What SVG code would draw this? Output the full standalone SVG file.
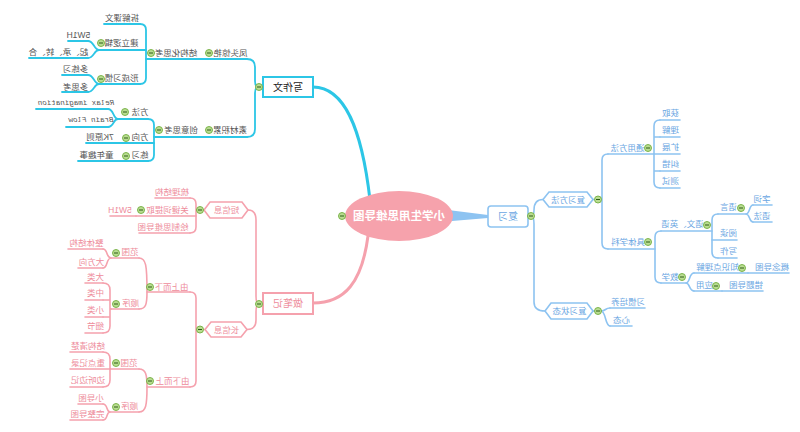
<svg xmlns="http://www.w3.org/2000/svg" xmlns:xlink="http://www.w3.org/1999/xlink" width="800" height="432" viewBox="0 0 800 432">
<style>
.t{font-family:"Liberation Sans","Noto Sans CJK SC",sans-serif;font-size:8.5px;text-anchor:middle;dominant-baseline:central;transform:scaleX(-1);transform-box:fill-box;transform-origin:center}
.mono{font-family:"Liberation Mono",monospace;font-style:italic;font-size:7.5px}
.big{font-size:10px}
.c{fill:#555}.p{fill:#EE8C9B}.b{fill:#6AA6E2}
.lc{fill:none;stroke:#2CC6E6;stroke-width:1.8;stroke-linecap:round}
.lp{fill:none;stroke:#F5A1AD;stroke-width:1.6;stroke-linecap:round}
.lb{fill:none;stroke:#8DC3F1;stroke-width:1.6;stroke-linecap:round}
.hp{fill:#fff;stroke:#F5A1AD;stroke-width:1.6}
.hb{fill:#fff;stroke:#8DC3F1;stroke-width:1.6}
</style>
<defs>
<g id="cb"><circle r="3.5" fill="#b9dc91" stroke="#72ae3e" stroke-width="0.9"/><line x1="-2" y1="0" x2="2" y2="0" stroke="#2f5d17" stroke-width="1"/></g>
</defs>
<rect width="800" height="432" fill="#fff"/>

<g id="connectors">
<!-- main -->
<path class="lc" style="stroke-width:3" d="M313,87 C345,87 362,130 370,200"/>
<path class="lp" style="stroke-width:3" d="M368,236 C362,282 345,303 313,303"/>
<path d="M440,209 L488,215 L488,218 L440,222 Z" fill="#8DC3F1"/>
<!-- cyan -->
<path class="lc" d="M263,87 L259,87 Q255,87 255,81 L255,67 Q255,59 247,59"/>
<path class="lc" d="M259,87 Q255,87 255,93 L255,129 Q255,137 247,137"/>
<path class="lc" d="M140,24 Q146,24 146,30 L146,78 Q146,84 140,84"/>
<path class="lc" d="M99,50 C94,50 94,41 88,41 M99,50 C94,50 94,58 88,58"/>
<path class="lc" d="M99,84 C94,84 94,75 88,75 M99,84 C94,84 94,92 88,92"/>
<path class="lc" d="M148,119 Q154,119 154,125 L154,155 Q154,161 148,161"/>
<path class="lc" d="M118,119 C113,119 114,109 108,109 M118,119 C113,119 114,127 108,127"/>
<!-- pink -->
<path class="lp" d="M263,304 L259,304 Q256,304 256,296 L256,220 Q256,210 248,210"/>
<path class="lp" d="M259,304 Q256,304 256,312 L256,320 Q256,329.5 247,329.5"/>
<path class="lp" d="M190,198 Q196,198 196,204 L196,227 Q196,233 190,233 M204,210 L196,210"/>
<path class="lp" d="M190,292 Q196,292 196,298 L196,381 Q196,387 190,387 M205,329.5 L196,329.5"/>
<path class="lp" d="M147,292 C147,265 146,258 139,258 M147,292 C147,304 146,309 139,309"/>
<path class="lp" d="M111,258 C106,258 108,249 103,249 M111,258 C106,258 108,268 103,268"/>
<path class="lp" d="M103,283 Q110,283 110,290 L110,326 Q110,333 103,333 M111,309 L110,309 M110,300 L103,300 M110,317 L103,317"/>
<path class="lp" d="M147,387 C147,375 146,369 139,369 M147,387 C147,405 146,412 139,412"/>
<path class="lp" d="M103,352 Q110,352 110,359 L110,380 Q110,387 103,387"/>
<path class="lp" d="M110,412 C106,412 108,404 103,404 M110,412 C106,412 108,420 103,420"/>
<!-- blue -->
<path class="lb" d="M528,216 L531,216 Q534,216 534,210 Q534,199.5 543,199.5"/>
<path class="lb" d="M531,216 Q534,216 534,224 L534,302 Q534,311 545,311"/>
<path class="lb" d="M593,199.5 L602,199.5 M608,154 Q602,154 602,160 L602,243 Q602,249 608,249"/>
<path class="lb" d="M660,120 Q654,120 654,126 L654,182 Q654,188 660,188 M654,137 L660,137 M654,171 L660,171"/>
<path class="lb" d="M661,231 Q655,231 655,237 L655,277 Q655,283 661,283"/>
<path class="lb" d="M718,214 Q712,214 712,220 L712,252 Q712,258 718,258"/>
<path class="lb" d="M746,214 C750,214 749,205 753,205 M746,214 C750,214 749,222 753,222"/>
<path class="lb" d="M686,283 C690,283 689,273 694,273 M686,283 C690,283 689,291 694,291"/>
<path class="lb" d="M593,311 L601,311 C606,311 605,308 610,308 M601,311 C606,311 605,326 610,326"/>
</g>

<!-- center -->
<g id="root">
<ellipse cx="399" cy="216" rx="54" ry="25" fill="#F6A2AC"/>
<text class="t" x="399" y="216" style="font-size:11.5px;font-weight:bold;fill:#fff">小学生用思维导图</text>
<use href="#cb" x="342" y="216"/>
</g>

<!-- cyan branch -->
<g id="n-xiezuowen"><rect x="263" y="77" width="50" height="20" fill="#fff" stroke="#2CC6E6" stroke-width="2"/><text class="t big" x="288" y="87" style="fill:#222">写作文</text><use href="#cb" x="259" y="87"/></g>
<g id="n-fengtou"><text class="t c" x="230" y="53">凤头惊艳</text><path class="lc" d="M199,59 H247"/><use href="#cb" x="209" y="53"/></g>
<g id="n-jiegouhua"><text class="t c" x="176" y="53">结构化思考</text><path class="lc" d="M146,59 H199"/><use href="#cb" x="151" y="53"/></g>
<g id="n-chaijie"><text class="t c" x="121.5" y="18">拆解课文</text><path class="lc" d="M104,24 H140"/></g>
<g id="n-jianli"><text class="t c" x="121" y="43">建立逻辑</text><path class="lc" d="M99,50 H146"/><use href="#cb" x="101" y="43"/></g>
<g id="n-5w1h-a"><text class="t c" x="78.5" y="35">5W1H</text><path class="lc" d="M68,41 H88"/></g>
<g id="n-qichengzhuanhe"><text class="t c" x="58" y="52">起、承、转、合</text><path class="lc" d="M29,58 H88"/></g>
<g id="n-xingcheng"><text class="t c" x="121" y="78">形成习惯</text><path class="lc" d="M99,84 H140"/><use href="#cb" x="101" y="79"/></g>
<g id="n-duolianxi"><text class="t c" x="75.5" y="69">多练习</text><path class="lc" d="M62,75 H88"/></g>
<g id="n-duosikao"><text class="t c" x="75.5" y="87">多思考</text><path class="lc" d="M62,92 H88"/></g>
<g id="n-sucai"><text class="t c" x="230" y="130">素材积累</text><path class="lc" d="M203,137 H247"/><use href="#cb" x="209" y="130"/></g>
<g id="n-chuangyi"><text class="t c" x="181" y="130">创意思考</text><path class="lc" d="M154,137 H203"/><use href="#cb" x="159" y="130"/></g>
<g id="n-fangfa"><text class="t c" x="140" y="112">方法</text><path class="lc" d="M118,119 H148"/><use href="#cb" x="125" y="112"/></g>
<g id="n-relax"><text class="t c mono" x="75.5" y="103">Relax imagination</text><path class="lc" d="M36,109 H108"/></g>
<g id="n-brain"><text class="t c mono" x="90.5" y="120">Brain Flow</text><path class="lc" d="M66,127 H108"/></g>
<g id="n-fangxiang"><text class="t c" x="140" y="137">方向</text><path class="lc" d="M122,143 H154"/><use href="#cb" x="126" y="138"/></g>
<g id="n-7k"><text class="t c" x="100" y="137">7K原则</text><path class="lc" d="M86,143 H122"/></g>
<g id="n-lianxi"><text class="t c" x="140" y="155">练习</text><path class="lc" d="M122,161 H148"/><use href="#cb" x="126" y="156"/></g>
<g id="n-tongnian"><text class="t c" x="96" y="155">童年趣事</text><path class="lc" d="M78,161 H122"/></g>

<!-- pink branch -->
<g id="n-zuobiji"><rect x="263" y="293" width="50" height="21" fill="#fff" stroke="#F5A1AD" stroke-width="2"/><text class="t big p" x="288" y="303.5">做笔记</text><use href="#cb" x="259" y="304"/></g>
<g id="n-duanxinxi"><polygon class="hp" points="210,202 242,202 248,210 242,218 210,218 204,210"/><text class="t p" x="226" y="210">短信息</text><use href="#cb" x="200" y="210"/></g>
<g id="n-shuli"><text class="t p" x="172" y="192">梳理结构</text><path class="lp" d="M155,198 H190"/></g>
<g id="n-guanjianci"><text class="t p" x="167" y="210">关键词提取</text><path class="lp" d="M136,216 H196"/><use href="#cb" x="141" y="210"/></g>
<g id="n-5w1h-b"><text class="t p" x="120" y="210">5W1H</text><path class="lp" d="M110,216 H136"/></g>
<g id="n-huizhi"><text class="t p" x="163" y="227">绘制思维导图</text><path class="lp" d="M139,233 H190"/></g>
<g id="n-changxinxi"><polygon class="hp" points="211,322 241,322 247,329.5 241,337 211,337 205,329.5"/><text class="t p" x="226" y="329.5">长信息</text><use href="#cb" x="200" y="329.5"/></g>
<g id="n-shangxia"><text class="t p" x="171" y="287">由上而下</text><path class="lp" d="M147,292 H190"/><use href="#cb" x="150" y="287"/></g>
<g id="n-fanwei1"><text class="t p" x="130" y="252">范围</text><path class="lp" d="M111,258 H139"/><use href="#cb" x="116" y="253"/></g>
<g id="n-zhengti"><text class="t p" x="86.5" y="243">整体结构</text><path class="lp" d="M68,249 H103"/></g>
<g id="n-dafangxiang"><text class="t p" x="91.5" y="262">大方向</text><path class="lp" d="M78,268 H103"/></g>
<g id="n-shunxu1"><text class="t p" x="130" y="303">顺序</text><path class="lp" d="M111,309 H139"/><use href="#cb" x="116" y="304"/></g>
<g id="n-dalei"><text class="t p" x="95" y="277">大类</text><path class="lp" d="M85,283 H103"/></g>
<g id="n-zhonglei"><text class="t p" x="95" y="293">中类</text><path class="lp" d="M85,300 H103"/></g>
<g id="n-xiaolei"><text class="t p" x="95" y="310">小类</text><path class="lp" d="M85,317 H103"/></g>
<g id="n-xijie"><text class="t p" x="95" y="326">细节</text><path class="lp" d="M85,333 H103"/></g>
<g id="n-xiashang"><text class="t p" x="172" y="381">由下而上</text><path class="lp" d="M147,387 H190"/><use href="#cb" x="150" y="381"/></g>
<g id="n-fanwei2"><text class="t p" x="129" y="363">范围</text><path class="lp" d="M110,369 H139"/><use href="#cb" x="116" y="363"/></g>
<g id="n-jiegouqingchu"><text class="t p" x="87.5" y="346">结构清楚</text><path class="lp" d="M70,352 H103"/></g>
<g id="n-zhongdian"><text class="t p" x="87.5" y="363">重点记录</text><path class="lp" d="M70,369 H110"/></g>
<g id="n-biantingbianji"><text class="t p" x="87.5" y="380">边听边记</text><path class="lp" d="M70,387 H103"/></g>
<g id="n-shunxu2"><text class="t p" x="129" y="406">顺序</text><path class="lp" d="M110,412 H139"/><use href="#cb" x="116" y="407"/></g>
<g id="n-xiaodaotu"><text class="t p" x="91" y="398">小导图</text><path class="lp" d="M78,404 H103"/></g>
<g id="n-wanzheng"><text class="t p" x="87.5" y="414">完整导图</text><path class="lp" d="M70,420 H103"/></g>

<!-- blue branch -->
<g id="n-fuxi"><rect x="488" y="206" width="40" height="21" rx="3" fill="#fff" stroke="#8DC3F1" stroke-width="1.6"/><text class="t big b" x="508" y="216.5">复习</text><use href="#cb" x="531" y="216"/></g>
<g id="n-fuxifangfa"><polygon class="hb" points="549,192 587,192 593,199.5 587,207 549,207 543,199.5"/><text class="t b" x="568" y="199.5">复习方法</text><use href="#cb" x="598" y="199.5"/></g>
<g id="n-tongyong"><text class="t b" x="627.5" y="148">通用方法</text><path class="lb" d="M608,154 H654"/><use href="#cb" x="648" y="148"/></g>
<g id="n-huoqu"><text class="t b" x="670" y="113">获取</text><path class="lb" d="M660,120 H680"/></g>
<g id="n-lijie"><text class="t b" x="670" y="130">理解</text><path class="lb" d="M660,137 H680"/></g>
<g id="n-kuozhan"><text class="t b" x="670" y="147">扩展</text><path class="lb" d="M654,154 H680"/></g>
<g id="n-jiucuo"><text class="t b" x="670" y="164">纠错</text><path class="lb" d="M660,171 H680"/></g>
<g id="n-ceshi"><text class="t b" x="670" y="181">测试</text><path class="lb" d="M660,188 H680"/></g>
<g id="n-juti"><text class="t b" x="627.5" y="242">具体学科</text><path class="lb" d="M608,249 H655"/><use href="#cb" x="648" y="242"/></g>
<g id="n-yuwen"><text class="t b" x="682" y="224">语文、英语</text><path class="lb" d="M661,231 H712"/><use href="#cb" x="707" y="225"/></g>
<g id="n-yuyan"><text class="t b" x="728" y="207">语言</text><path class="lb" d="M718,214 H746"/><use href="#cb" x="741" y="208"/></g>
<g id="n-zici"><text class="t b" x="762" y="198.5">字词</text><path class="lb" d="M753,205 H772"/></g>
<g id="n-yufa"><text class="t b" x="762" y="215.5">语法</text><path class="lb" d="M753,222 H772"/></g>
<g id="n-yuedu"><text class="t b" x="728" y="233">阅读</text><path class="lb" d="M712,240 H737"/></g>
<g id="n-xiezuo"><text class="t b" x="728" y="251">写作</text><path class="lb" d="M718,258 H737"/></g>
<g id="n-shuxue"><text class="t b" x="669.5" y="277">数学</text><path class="lb" d="M661,283 H686"/><use href="#cb" x="682" y="277"/></g>
<g id="n-zhishidian"><text class="t b" x="717" y="267">知识点理解</text><path class="lb" d="M694,273 H748"/><use href="#cb" x="742" y="268"/></g>
<g id="n-gainian"><text class="t b" x="772" y="267">概念导图</text><path class="lb" d="M748,273 H789"/></g>
<g id="n-yingyong"><text class="t b" x="704.5" y="285">应用</text><path class="lb" d="M694,291 H722"/><use href="#cb" x="716" y="286"/></g>
<g id="n-cuoti"><text class="t b" x="746" y="284.5">错题导图</text><path class="lb" d="M722,291 H763"/></g>
<g id="n-fuxizhuangtai"><polygon class="hb" points="551,303 587,303 593,311 587,319 551,319 545,311"/><text class="t b" x="569" y="311">复习状态</text><use href="#cb" x="598" y="311"/></g>
<g id="n-xiguan"><text class="t b" x="627.5" y="302">习惯培养</text><path class="lb" d="M610,308 H645"/></g>
<g id="n-xintai"><text class="t b" x="621" y="320">心态</text><path class="lb" d="M610,326 H632"/></g>
</svg>
